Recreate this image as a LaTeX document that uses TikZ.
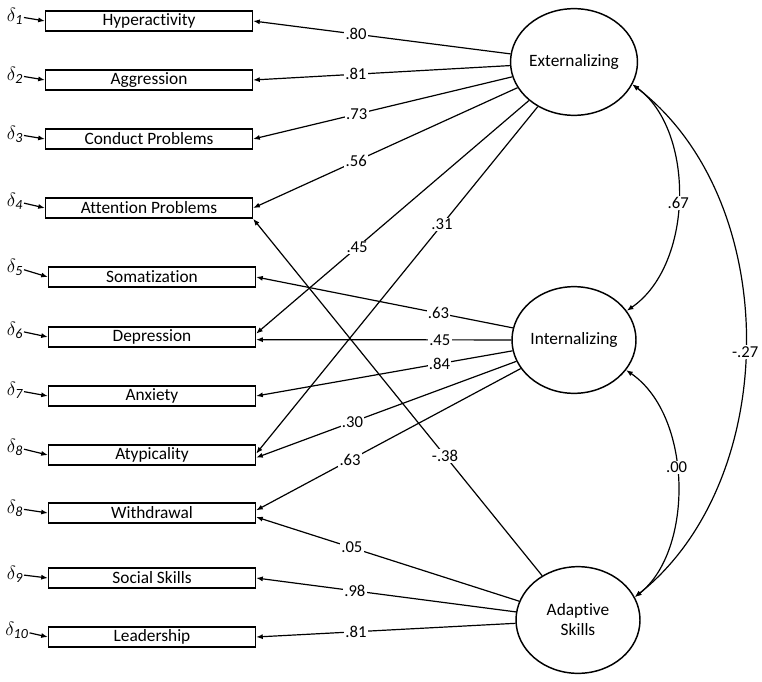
\documentclass[tikz,border=0pt]{standalone}
\usepackage{fontspec}
\setmainfont[Ligatures=NoCommon]{Carlito}
\usetikzlibrary{shapes.geometric,arrows.meta}

\tikzset{
  obs/.style={draw,line width=1.2pt,minimum width=155pt,minimum height=15pt,inner sep=0pt,
    font=\fontsize{13}{14}\selectfont},
  lat/.style={draw,ellipse,line width=1.1pt,minimum width=93pt,minimum height=80pt,inner sep=0pt,
    align=center,font=\fontsize{13}{15}\selectfont},
  tip/.style={-{Latex[length=5pt,width=3.8pt]}},
  load/.style={line width=0.9pt,tip},
  cov/.style={line width=0.9pt,{Latex[length=5pt,width=3.8pt]}-{Latex[length=5pt,width=3.8pt]}},
  coef/.style={fill=white,inner sep=1pt,font=\fontsize{12.5}{13}\selectfont},
  err/.style={inner sep=0.5pt,font=\fontsize{15}{16}\selectfont},
}

\begin{document}
\begin{tikzpicture}[x=0.75pt,y=-0.75pt]
  \useasboundingbox (0,0) rectangle (762,681);
  \node[obs] (hyp) at (149,21) {Hyperactivity};
  \node[obs] (agg) at (149,80) {Aggression};
  \node[obs] (con) at (149,139) {Conduct Problems};
  \node[obs] (att) at (149,208) {Attention Problems};
  \node[obs] (som) at (152,277) {Somatization};
  \node[obs] (dep) at (152,337) {Depression};
  \node[obs] (anx) at (152,396) {Anxiety};
  \node[obs] (aty) at (152,455) {Atypicality};
  \node[obs] (wit) at (152,513) {Withdrawal};
  \node[obs] (soc) at (152,578) {Social Skills};
  \node[obs] (lea) at (152,637) {Leadership};

  \node[err] (d1) at (15,16) {$\delta_{\mathit{1}}$};
  \node[err] (d2) at (15,75) {$\delta_{\mathit{2}}$};
  \node[err] (d3) at (15,134) {$\delta_{\mathit{3}}$};
  \node[err] (d4) at (15,201) {$\delta_{\mathit{4}}$};
  \node[err] (d5) at (15,267) {$\delta_{\mathit{5}}$};
  \node[err] (d6) at (15,330) {$\delta_{\mathit{6}}$};
  \node[err] (d7) at (15,390) {$\delta_{\mathit{7}}$};
  \node[err] (d8) at (15,447) {$\delta_{\mathit{8}}$};
  \node[err] (d8b) at (15,508) {$\delta_{\mathit{8}}$};
  \node[err] (d9) at (15,574) {$\delta_{\mathit{9}}$};
  \node[err] (d10) at (17,630) {$\delta_{\mathit{10}}$};
  \foreach \e/\b in {d1/hyp,d2/agg,d3/con,d4/att,d5/som,d6/dep,d7/anx,d8/aty,d8b/wit,d9/soc,d10/lea}
    \draw[load] (\e) -- (\b.west);

  \node[lat] (ext) at (574,62) {Externalizing};
  \node[lat] (int) at (574,340) {Internalizing};
  \node[lat] (ada) at (578,620) {Adaptive\\Skills};

  \draw[load] (ext) -- node[coef,pos=0.6]{.80} (hyp.east);
  \draw[load] (ext) -- node[coef,pos=0.6]{.81} (agg.east);
  \draw[load] (ext) -- node[coef,pos=0.6]{.73} (con.east);
  \draw[load] (ext) -- node[coef,pos=0.61]{.56} (att.east);
  \draw[load] (ext) -- node[coef,pos=0.63]{.45} ([yshift=2.5pt]dep.east);
  \draw[load] (ext) -- node[coef,pos=0.34]{.31} ([yshift=1pt]aty.east);

  \draw[load] (int) -- node[coef,pos=0.29]{.63} (som.east);
  \draw[load] (int) -- node[coef,pos=0.28]{.45} ([yshift=-2pt]dep.east);
  \draw[load] (int) -- node[coef,pos=0.285]{.84} (anx.east);
  \draw[load] (int) -- node[coef,pos=0.63]{.30} ([yshift=-2pt]aty.east);
  \draw[load] (int) -- node[coef,pos=0.645]{.63} ([yshift=2pt]wit.east);

  \draw[load] (ada) -- node[coef,pos=0.336]{-.38} (att.south east);
  \draw[load] (ada) -- node[coef,pos=0.636]{.05} ([yshift=-3pt]wit.east);
  \draw[load] (ada) -- node[coef,pos=0.62]{.98} (soc.east);
  \draw[load] (ada) -- node[coef,pos=0.615]{.81} (lea.east);

  \draw[cov] (ext.339) .. controls +(63,46) and +(67,-46) .. node[coef,pos=0.52]{.67} (int.29);
  \draw[cov] (int.330) .. controls +(67,46) and +(59,-46) .. node[coef,pos=0.44]{.00} (ada.22);
  \draw[cov] (ext.339) .. controls +(151,116) and +(147,-117) .. node[coef,pos=0.52]{-.27} (ada.22);
\end{tikzpicture}
\end{document}
